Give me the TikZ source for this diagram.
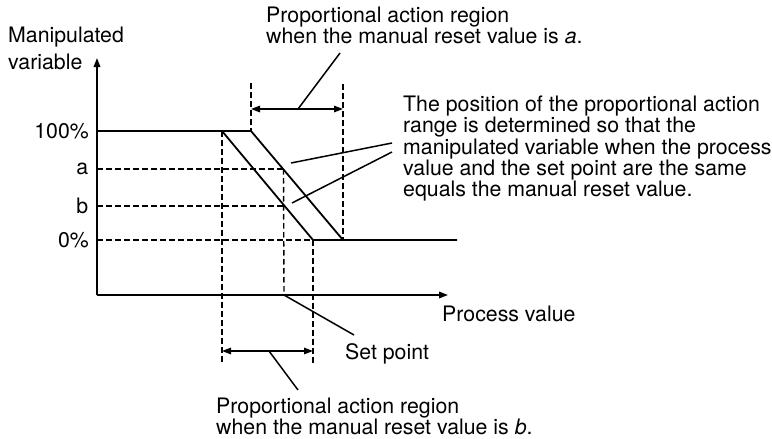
\documentclass[tikz,border=0pt]{standalone}
\usepackage{fontspec}
\setmainfont{TeX Gyre Heros}
\usetikzlibrary{arrows.meta}
\begin{document}
\begin{tikzpicture}[x=1pt,y=1pt,
  solidln/.style={line width=1.8pt,line cap=butt,line join=miter},
  dashln/.style={line width=1.4pt,dash pattern=on 5.5pt off 3.5pt},
  thinln/.style={line width=1.5pt},
  axisln/.style={line width=1.8pt,-{Triangle[length=9pt,width=6.5pt]}},
  dimln/.style={line width=1.5pt,{Triangle[length=9pt,width=6.5pt]}-{Triangle[length=9pt,width=6.5pt]}},
  txt/.style={inner sep=0pt,font=\fontsize{21.3}{17.6}\selectfont,align=left},
  lbl/.style={inner sep=0pt,font=\fontsize{21.3}{17.6}\selectfont,anchor=east}]
\useasboundingbox (0,0) rectangle (772,-439);
% key points
\coordinate (O) at (97,-295);
\coordinate (ytip) at (97,-58);
\coordinate (xtip) at (448,-295);
\coordinate (y100) at (97,-131);
\coordinate (ya) at (97,-169);
\coordinate (yb) at (97,-206);
\coordinate (y0) at (97,-240);
\coordinate (B1) at (222,-131);
\coordinate (B2) at (313,-240);
\coordinate (A1) at (251,-131);
\coordinate (A2) at (343,-240);
\coordinate (zend) at (457,-240);
\coordinate (sa) at (283.5,-169);
\coordinate (sb) at (284,-206);
\coordinate (sp) at (284,-295);
\coordinate (B1bot) at (222,-364);
\coordinate (B2bot) at (313,-363);
\coordinate (A1top) at (251,-83);
\coordinate (A2top) at (343,-84);
% dimension arrow points
\coordinate (ta1) at (251,-109);
\coordinate (ta2) at (343,-109);
\coordinate (tam) at (298,-109);
\coordinate (tlead) at (340,-53);
\coordinate (ba1) at (222,-351);
\coordinate (ba2) at (313,-351);
\coordinate (bam) at (269,-351);
\coordinate (blead) at (298,-390);
\coordinate (splead) at (354,-335);
\coordinate (ra) at (291,-163);
\coordinate (rb) at (292,-203);
\coordinate (rea) at (392,-143);
\coordinate (reb) at (392,-152);

% dashed guide lines
\draw[dashln] (ya) -- (sa);
\draw[dashln] (yb) -- (sb);
\draw[dashln] (y0) -- (B2);
\draw[dashln] (B1) -- (B1bot);
\draw[dashln] (B2) -- (B2bot);
\draw[dashln] (A1top) -- (A1);
\draw[dashln] (A2top) -- (A2);
\draw[dashln] (sa) -- (sp);

% axes
\draw[axisln] (O) -- (ytip);
\draw[axisln] (O) -- (xtip);

% characteristic lines
\draw[solidln] (y100) -- (A1) -- (A2) -- (zend);
\draw[solidln] (B1) -- (B2) -- (A2);

% dimension arrows and leaders
\draw[dimln] (ta1) -- (ta2);
\draw[dimln] (ba1) -- (ba2);
\draw[thinln] (tam) -- (tlead);
\draw[thinln] (bam) -- (blead);
\draw[thinln] (sp) -- (splead);
\draw[thinln] (ra) -- (rea);
\draw[thinln] (rb) -- (reb);

% texts
\node[txt,anchor=base west] (mv1) at (8,-42.7) {Manipulated};
\node[txt,anchor=base west] (mv2) at (8,-69.3) {variable};
\node[lbl] (l100) at (89,-131) {100\%};
\node[lbl] (la) at (88.5,-169) {a};
\node[lbl] (lb) at (88.5,-206) {b};
\node[lbl] (l0) at (89,-240) {0\%};
\node[txt,anchor=base west] (toptxt) at (266,-43.3) {Proportional action region\\when the manual reset value is \textit{a}.};
\node[txt,anchor=base west] (bottxt) at (216,-434.5) {Proportional action region\\when the manual reset value is \textit{b}.};
\node[txt,anchor=base west] (pv) at (442,-321) {Process value};
\node[txt,anchor=base west] (setp) at (345,-359) {Set point};
\node[txt,anchor=base west] (note) at (403,-196.4) {The position of the proportional action\\range is determined so that the\\manipulated variable when the process\\value and the set point are the same\\equals the manual reset value.};
\end{tikzpicture}
\end{document}
